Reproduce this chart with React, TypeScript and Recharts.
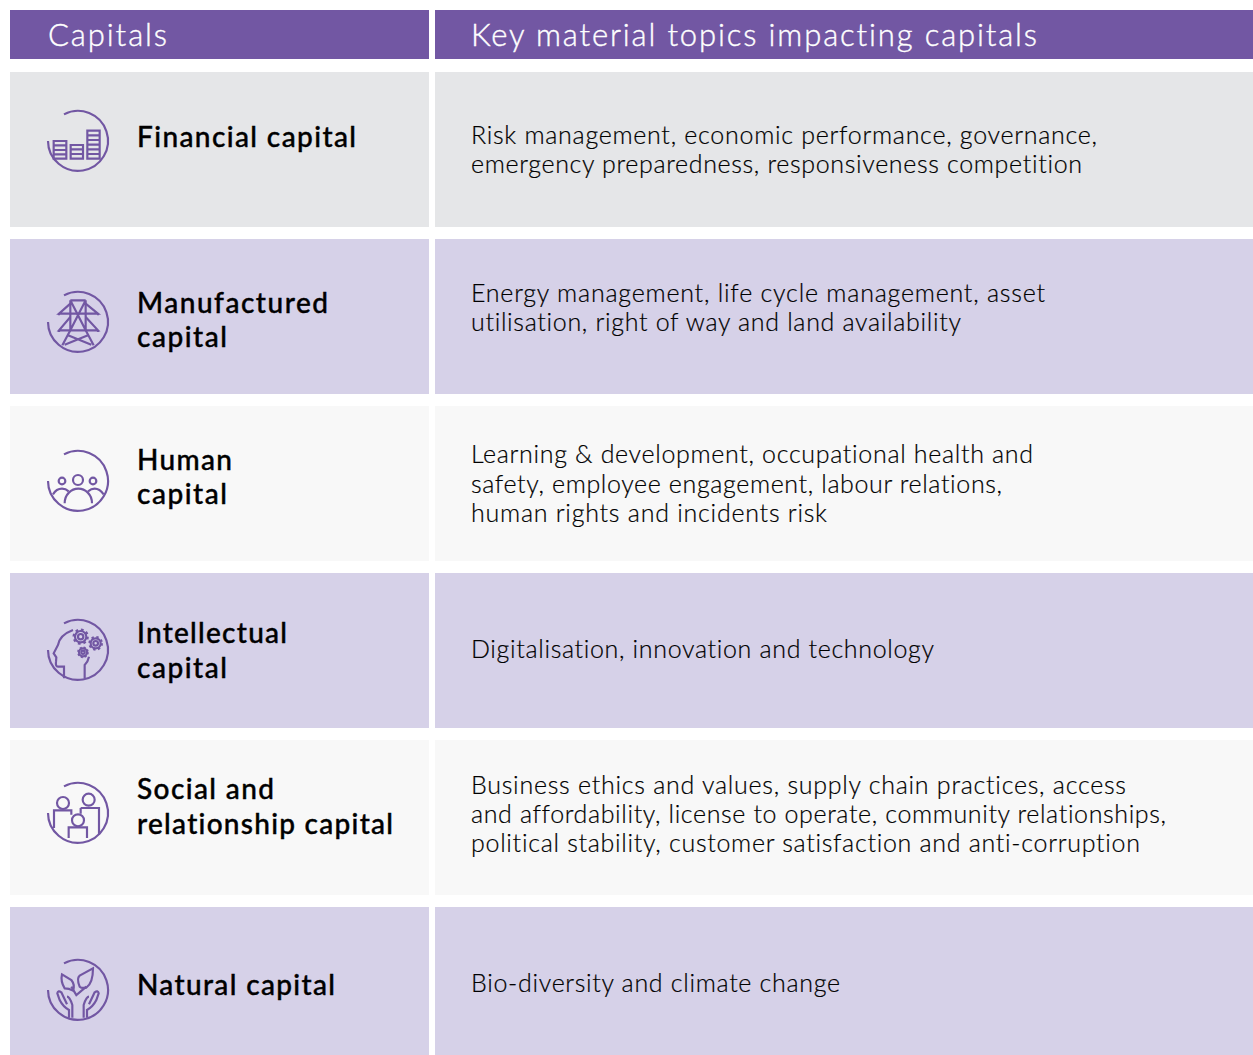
import React from 'react';
import { BarChart, Bar, XAxis, YAxis, Rectangle } from 'recharts';

const headerLabels = ['Capitals', 'Key material topics impacting capitals'];
const capitals = ['Financial capital', 'Manufactured capital', 'Human capital', 'Intellectual capital', 'Social and relationship capital', 'Natural capital'];
const capitalLines = [
  ['Financial capital'],
  ['Manufactured', 'capital'],
  ['Human', 'capital'],
  ['Intellectual', 'capital'],
  ['Social and', 'relationship capital'],
  ['Natural capital'],
];
const topicLines = [
  ['Risk management, economic performance, governance,', 'emergency preparedness, responsiveness competition'],
  ['Energy management, life cycle management, asset', 'utilisation, right of way and land availability'],
  ['Learning & development, occupational health and', 'safety, employee engagement, labour relations,', 'human rights and incidents risk'],
  ['Digitalisation, innovation and technology'],
  ['Business ethics and values, supply chain practices, access', 'and affordability, license to operate, community relationships,', 'political stability, customer satisfaction and anti-corruption'],
  ['Bio-diversity and climate change'],
];

// column extents along the x axis of the table
const leadSpan = 10;
const capitalSpan = 419;
const gapSpan = 6;
const topicSpan = 818;

const rows = capitals.map((name) => ({ name, leadSpan, capitalSpan, gapSpan, topicSpan }));
const headerRows = [{ name: 'header', leadSpan, capitalSpan, gapSpan, topicSpan }];

// styles and text layout, separate from the data
const PURPLE = '#7257a3';
const FONT = 'Lato, sans-serif';
const rowFills = ['#e5e6e8', '#d6d1e8', '#f8f8f8', '#d6d1e8', '#f8f8f8', '#d6d1e8'];
const capitalBaselines = [[75], [74, 108], [64, 98], [70, 105], [59, 94], [88]];
const topicBaselines = [[72, 101], [63, 92], [57, 87, 116], [85], [54, 83, 112], [85]];
const capitalWidths = [[219], [191, 90], [95, 90], [150, 90], [137, 256], [198]];
const topicWidths = [[626, 611], [574, 490], [562, 531, 356], [463], [655, 695, 669], [369]];
const iconOffsets = [69, 83, 75, 77, 73, 83];

const ring = <path d="M-90 0A90 90 0 1 0 -42 -80" />;

// icons are sketched at 3x around the ring centre
const icons = [
  <g>
    {ring}
    <path d="M-73 53V0H-35V53ZM-73 13H-35M-73 27H-35M-73 40H-35" />
    <path d="M-22 53V12H15V53ZM-22 25H15M-22 39H15" />
    <path d="M28 53V-31H65V53ZM28 -17H65M28 -3H65M28 11H65M28 25H65M28 39H65" />
  </g>,
  <g>
    {ring}
    <path d="M-23 -65H23M-23 -65V25M23 -65V25M-23 -65L23 25M23 -65L-23 25" />
    <path d="M-23 -55L-57 -25H60L23 -55M-23 -15L-57 25H60L23 -15M-57 25V30M60 25V30M-57 -25V-20M60 -25V-20" />
    <path d="M-23 25L-47 70M23 25L47 70M-30 40L40 68M30 40L-40 68" />
  </g>,
  <g>
    {ring}
    <circle cx="0" cy="-3" r="15" />
    <circle cx="-48" cy="0" r="10" />
    <circle cx="45" cy="0" r="10" />
    <path d="M-40 67C-40 40 -20 23 1 23C22 23 42 40 42 67" />
    <path d="M-75 40Q-65 23 -48 23Q-37 23 -28 31M30 31Q40 23 50 23Q65 23 77 40" />
  </g>,
  <g>
    {ring}
    <path d="M-42 85V50H-60Q-68 50 -66 35L-65 22L-73 10L-60 -15Q-55 -45 -15 -60" />
    <path d="M20 85V45Q30 35 33 20" />
    <circle cx="8" cy="-40" r="8" />
    <circle cx="8" cy="-40" r="17" />
    <circle cx="8" cy="-40" r="21" strokeWidth="7" strokeDasharray="8 8.5" />
    <circle cx="53" cy="-20" r="7" />
    <circle cx="53" cy="-20" r="15" />
    <circle cx="53" cy="-20" r="19" strokeWidth="6" strokeDasharray="7 7.9" />
    <circle cx="15" cy="7" r="5" />
    <circle cx="15" cy="7" r="12" />
    <circle cx="15" cy="7" r="15" strokeWidth="5" strokeDasharray="6 5.8" />
  </g>,
  <g>
    {ring}
    <circle cx="-45" cy="-30" r="18" />
    <circle cx="32" cy="-40" r="18" />
    <circle cx="0" cy="22" r="18" />
    <path d="M-72 45V-8H-20V5" />
    <path d="M8 -15H63V65M8 -15V2" />
    <path d="M-28 75V43H27V75" />
  </g>,
  <g>
    {ring}
    <path d="M-48 -47L-20 -30Q-8 -15 -15 2Q-27 -5 -40 -5Q-53 -25 -48 -47Z" />
    <path d="M45 -65Q45 -20 25 -7Q10 -5 5 -10Q-5 -35 5 -43Z" />
    <path d="M-20 -10L-5 15L25 -10" />
    <path d="M-27 83V60Q-45 50 -55 30L-62 10Q-60 0 -50 7L-33 43M-33 20Q-25 20 -17 45V83" />
    <path d="M27 83V60Q45 50 55 30L62 10Q60 0 50 7L33 43M33 20Q25 20 17 45V83" />
  </g>,
];

const noLigatures = { fontVariantLigatures: 'none' };

const HeaderCell = ({ x, y, width, height, label, textX, textWidth }: any) => (
  <g>
    <Rectangle x={x} y={y} width={width} height={height} fill={PURPLE} />
    <text x={textX} y={y + 36} fill="#ffffff" stroke="#ffffff" strokeWidth={0.4} fontSize={31} fontWeight={300} fontFamily={FONT} style={noLigatures} textLength={textWidth} lengthAdjust="spacing">
      {label}
    </text>
  </g>
);

const CapitalCell = ({ x, y, width, height, index }: any) => (
  <g>
    <Rectangle x={x} y={y} width={width} height={height} fill={rowFills[index]} />
    <g transform={`translate(78 ${y + iconOffsets[index]}) scale(0.3333)`} fill="none" stroke={PURPLE} strokeWidth={6.5}>
      {icons[index]}
    </g>
    {capitalLines[index].map((line, i) => (
      <text key={line} x={137} y={y + capitalBaselines[index][i]} fill="#000000" fontSize={28} fontWeight={500} fontFamily={FONT} stroke="#000000" strokeWidth={0.4} style={noLigatures} textLength={capitalWidths[index][i]} lengthAdjust="spacing">
        {line}
      </text>
    ))}
  </g>
);

const TopicCell = ({ x, y, width, height, index }: any) => (
  <g>
    <Rectangle x={x} y={y} width={width} height={height} fill={rowFills[index]} />
    {topicLines[index].map((line, i) => (
      <text key={line} x={471} y={y + topicBaselines[index][i]} fill="#000000" fontSize={25} fontWeight={300} fontFamily={FONT} stroke="#000000" strokeWidth={0.2} style={noLigatures} textLength={topicWidths[index][i]} lengthAdjust="spacing">
        {line}
      </text>
    ))}
  </g>
);

export default function App() {
  return (
    <div style={{ position: 'absolute', left: 0, top: 0, width: 1253, height: 1055, overflow: 'hidden', background: '#fff' }}>
      <div style={{ position: 'absolute', left: 0, top: 10 }}>
        <BarChart width={1253} height={49} data={headerRows} layout="vertical" margin={{ top: 0, right: 0, bottom: 0, left: 0 }} barCategoryGap={0}>
          <XAxis type="number" hide domain={[0, 1253]} />
          <YAxis type="category" dataKey="name" hide />
          <Bar dataKey="leadSpan" stackId="row" fill="none" isAnimationActive={false} />
          <Bar dataKey="capitalSpan" stackId="row" isAnimationActive={false}
            shape={(p: any) => <HeaderCell {...p} label={headerLabels[0]} textX={48} textWidth={119} />} />
          <Bar dataKey="gapSpan" stackId="row" fill="none" isAnimationActive={false} />
          <Bar dataKey="topicSpan" stackId="row" isAnimationActive={false}
            shape={(p: any) => <HeaderCell {...p} label={headerLabels[1]} textX={471} textWidth={566} />} />
        </BarChart>
      </div>
      <div style={{ position: 'absolute', left: 0, top: 66 }}>
        <BarChart width={1253} height={1002} data={rows} layout="vertical" margin={{ top: 0, right: 0, bottom: 0, left: 0 }} barCategoryGap={6}>
          <XAxis type="number" hide domain={[0, 1253]} />
          <YAxis type="category" dataKey="name" hide />
          <Bar dataKey="leadSpan" stackId="row" fill="none" isAnimationActive={false} />
          <Bar dataKey="capitalSpan" stackId="row" isAnimationActive={false} shape={(p: any) => <CapitalCell {...p} />} />
          <Bar dataKey="gapSpan" stackId="row" fill="none" isAnimationActive={false} />
          <Bar dataKey="topicSpan" stackId="row" isAnimationActive={false} shape={(p: any) => <TopicCell {...p} />} />
        </BarChart>
      </div>
    </div>
  );
}
